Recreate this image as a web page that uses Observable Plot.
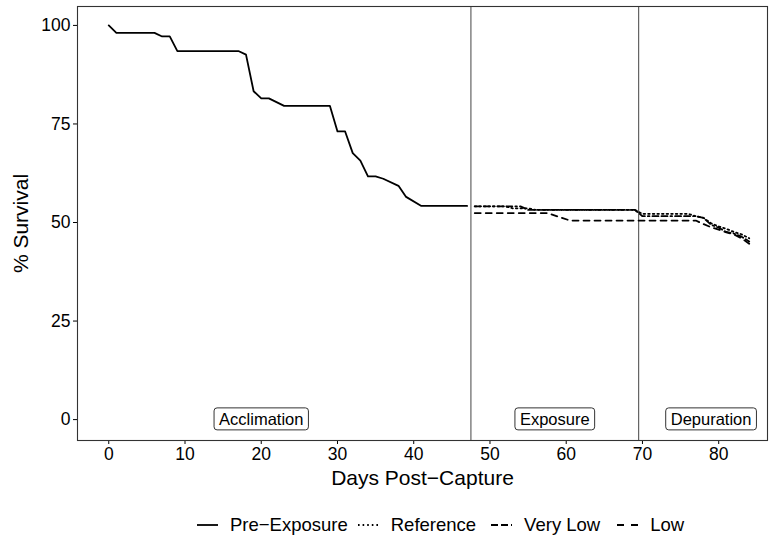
<!DOCTYPE html>
<html><head><meta charset="utf-8">
<script src="https://cdn.jsdelivr.net/npm/d3@7"></script>
<script src="https://cdn.jsdelivr.net/npm/@observablehq/plot@0.6"></script>
<style>
body{margin:0;background:#fff;font-family:"Liberation Sans",Arial,sans-serif;}
#wrap{position:relative;width:771px;height:540px;background:#fff;}
#legend{position:absolute;left:196px;top:514px;display:flex;align-items:center;font-size:18.5px;color:#000;white-space:nowrap;}
#legend .item{display:flex;align-items:center;}
#legend svg{margin-right:11px;}
</style></head><body><div id="wrap"><div id="chart"></div><div id="legend"></div></div>
<script>
// ---- data ----
const xTicks = [0, 10, 20, 30, 40, 50, 60, 70, 80];
const yTicks = [0, 25, 50, 75, 100];
const phaseBounds = [47.5, 69.5];
const phaseNames = ["Acclimation", "Exposure", "Depuration"];
const phaseCenters = [20, 58.5, 79];

const preDays = [0, 1, 6, 7, 8, 9, 17, 18, 19, 20, 21, 23, 29, 30, 31, 32, 33, 34, 35, 36, 38, 39, 41, 47];
const preSurv = [100, 98.1, 98.1, 97.2, 97.2, 93.5, 93.5, 92.6, 83.3, 81.5, 81.5, 79.6, 79.6, 73.1, 73.1, 67.6, 65.7, 61.7, 61.7, 61.1, 59.3, 56.5, 54.2, 54.2];

const refDays = [48, 52, 53, 55, 56, 69, 70, 76, 77, 78, 79, 80, 81, 82, 83, 84];
const refSurv = [54.1, 54.1, 53.6, 53.6, 53.2, 53.2, 52.2, 52.2, 51.6, 51.2, 49.8, 49.0, 48.4, 47.6, 47.0, 46.0];

const vlowDays = [48, 54, 55, 69, 70, 77, 78, 79, 80, 81, 82, 83, 84];
const vlowSurv = [54.1, 54.1, 53.2, 53.2, 51.6, 51.6, 51.2, 49.4, 48.7, 47.6, 47.2, 46.4, 45.2];

const lowDays = [48, 57.5, 60.5, 76, 77, 78, 79, 80, 81, 82, 83, 84];
const lowSurv = [52.4, 52.4, 50.5, 50.5, 50.5, 49.6, 48.8, 48.2, 47.5, 47.0, 46.0, 44.6];

const seriesNames = ["Pre\u2212Exposure", "Reference", "Very Low", "Low"];
const seriesDash = ["none", "1.6,3", "6,3,6,3,1.6,3", "6,5"];
const legendKeyDash = ["none", "1.6,3", "7,3,7,3,1.6,3", "7,7"];
const legendGaps = [9, 14, 16, 0];

// ---- tables ----
const toRows = (d, s) => d.map((v, i) => ({day: v, surv: s[i]}));
const allSeries = [toRows(preDays, preSurv), toRows(refDays, refSurv), toRows(vlowDays, vlowSurv), toRows(lowDays, lowSurv)];
const phaseLabels = phaseNames.map((n, i) => ({label: n, x: phaseCenters[i], y: 0}));

const chart = Plot.plot({
  width: 771, height: 495,
  marginLeft: 77, marginRight: 4, marginTop: 6, marginBottom: 55,
  style: {fontFamily: "'Liberation Sans', Arial, sans-serif", fontSize: "17.5px", color: "black", background: "white"},
  x: {domain: [-4.1, 86.4], ticks: xTicks, tickSize: 4, tickPadding: 3, label: "Days Post\u2212Capture", labelAnchor: "center", labelOffset: 44, labelArrow: "none"},
  y: {domain: [-5.3, 104.8], ticks: yTicks, tickSize: 4, tickPadding: 3, label: "% Survival", labelAnchor: "center", labelOffset: 64, labelArrow: "none"},
  marks: [
    Plot.ruleX(phaseBounds, {stroke: "#555", strokeWidth: 1.1}),
    ...allSeries.map((rows, i) => Plot.line(rows, {x: "day", y: "surv", stroke: "black", strokeWidth: 1.8, strokeDasharray: seriesDash[i] === "none" ? undefined : seriesDash[i]})),
    Plot.text(phaseLabels, {x: "x", y: "y", text: "label", fontSize: 16.5, fill: "black"}),
    Plot.frame({stroke: "#333", strokeWidth: 1.1})
  ]
});
document.getElementById("chart").appendChild(chart);

// font sizes for axis titles
chart.querySelectorAll('g[aria-label="x-axis label"] text, g[aria-label="y-axis label"] text').forEach(t => t.setAttribute("font-size", "21px"));

// boxes behind phase labels
chart.querySelectorAll('g[aria-label="text"] text').forEach(t => {
  const b = t.getBBox();
  const r = document.createElementNS("http://www.w3.org/2000/svg", "rect");
  r.setAttribute("x", b.x - 5); r.setAttribute("y", b.y - 2);
  r.setAttribute("width", b.width + 10); r.setAttribute("height", b.height + 4);
  r.setAttribute("rx", 3); r.setAttribute("fill", "white"); r.setAttribute("stroke", "#333"); r.setAttribute("stroke-width", 1);
  const tr = t.getAttribute("transform");
  if (tr) r.setAttribute("transform", tr);
  t.parentNode.insertBefore(r, t);
});

// legend
const leg = d3.select("#legend");
seriesNames.forEach((n, i) => {
  const it = leg.append("div").attr("class", "item").style("margin-right", legendGaps[i] + "px");
  const s = it.append("svg").attr("width", 23).attr("height", 10);
  const ln = s.append("line").attr("x1", 1).attr("x2", 22).attr("y1", 5).attr("y2", 5).attr("stroke", "black").attr("stroke-width", 1.8);
  if (legendKeyDash[i] !== "none") ln.attr("stroke-dasharray", legendKeyDash[i]);
  it.append("span").text(n);
});
</script></body></html>
